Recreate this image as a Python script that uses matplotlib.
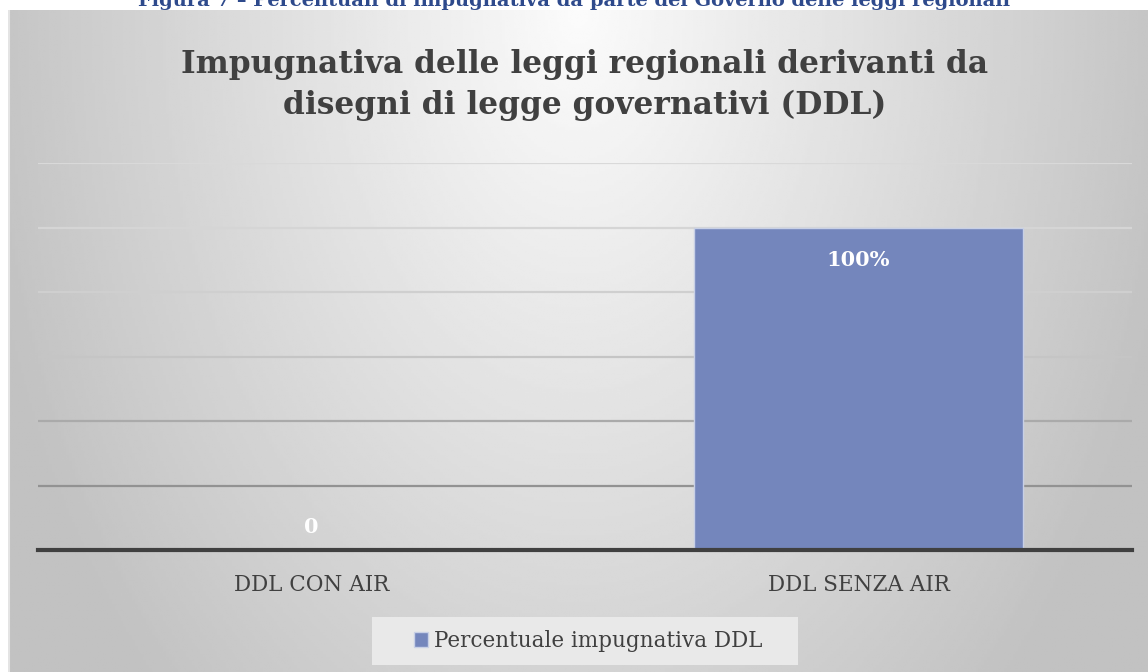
import numpy as np
import matplotlib.pyplot as plt
from matplotlib.patches import Rectangle

# dati del grafico
categories = ["DDL CON AIR", "DDL SENZA AIR"]
values = [0.0, 1.0]
value_labels = ["0", "100%"]
series_name = "Percentuale impugnativa DDL"
title = "Impugnativa delle leggi regionali derivanti da\ndisegni di legge governativi (DDL)"
caption = "Figura 7 – Percentuali di impugnativa da parte del Governo delle leggi regionali"
y_ticks = [0.2, 0.4, 0.6, 0.8, 1.0, 1.2]

W, H = 1148, 672
fig = plt.figure(figsize=(W / 100, H / 100), dpi=100)
fig.patch.set_facecolor('white')

# sfondo del grafico con gradiente radiale (stile Excel)
box_l, box_t = 8, 10
bg = fig.add_axes([box_l / W, 0, 1 - box_l / W, 1 - box_t / H])
bg.set_axis_off()
gx, gy = np.meshgrid(np.linspace(-1, 1, 400), np.linspace(0, 1, 240))
rr = np.sqrt(gx ** 2 + (gy * 0.75) ** 2)
shade = np.clip(0.985 - 0.21 * rr, 0.76, 1.0)
bg.imshow(shade, cmap='gray', vmin=0, vmax=1, aspect='auto',
          extent=[0, 1, 0, 1], origin='upper')
bg.set_xlim(0, 1)
bg.set_ylim(0, 1)
bg.axvline(0.0008, color='#e4e4e4', linewidth=1.5)

# didascalia (tagliata in alto, come nell'originale)
fig.text(0.5, 1 - 6 / H, caption, ha='center', va='baseline',
         fontsize=14, fontweight='bold', family='DejaVu Serif', color='#2e4a8c')

ax = fig.add_axes([38 / W, 1 - 550 / H, (1132 - 38) / W, (550 - 163) / H])
ax.patch.set_alpha(0)

grid_colors = ['#929292', '#aaaaaa', '#c5c5c5', '#cfcfcf', '#d5d5d5', '#d9d9d9']
for yv, c in zip(y_ticks, grid_colors):
    ax.axhline(yv, color=c, linewidth=1.6, zorder=1)

x = np.arange(len(categories))
bars = ax.bar(x, values, width=0.6, color='#7486bc', edgecolor='#c8d0e6',
              linewidth=1, zorder=2, label=series_name)

for xi, v, lab in zip(x, values, value_labels):
    ypos = v - 0.1 if v > 0 else 0.07
    ax.text(xi, ypos, lab, ha='center', va='center', color='white',
            fontsize=15, fontweight='bold', family='DejaVu Serif', zorder=3)

ax.set_xlim(-0.5, 1.5)
ax.set_ylim(0, 1.2)
ax.set_yticks([])
ax.set_xticks(x)
ax.set_xticklabels(categories, fontsize=15.5, family='DejaVu Serif', color='#404040')
ax.tick_params(axis='x', length=0, pad=17)
for s in ['top', 'right', 'left']:
    ax.spines[s].set_visible(False)
ax.spines['bottom'].set_color('#404040')
ax.spines['bottom'].set_linewidth(3)
ax.spines['bottom'].set_zorder(4)

fig.text(585 / W, 1 - 85 / H, title, ha='center', va='center',
         fontsize=22.5, fontweight='bold', family='DejaVu Serif', color='#404040',
         linespacing=1.38)

# riquadro della legenda
fig.patches.append(Rectangle((372 / W, 1 - 665 / H), (798 - 372) / W, 48 / H,
                             transform=fig.transFigure, facecolor='#e9e9e9',
                             edgecolor='none', zorder=1))
leg = fig.legend(handles=[bars], loc='center', bbox_to_anchor=(588 / W, 1 - 641 / H),
                 frameon=False, prop={'family': 'DejaVu Serif', 'size': 15.5},
                 handlelength=0.65, handleheight=0.65, handletextpad=0.3,
                 borderpad=0.3, borderaxespad=0)
leg.set_zorder(5)
for t in leg.get_texts():
    t.set_color('#404040')

fig.savefig('out.png', dpi=100)
